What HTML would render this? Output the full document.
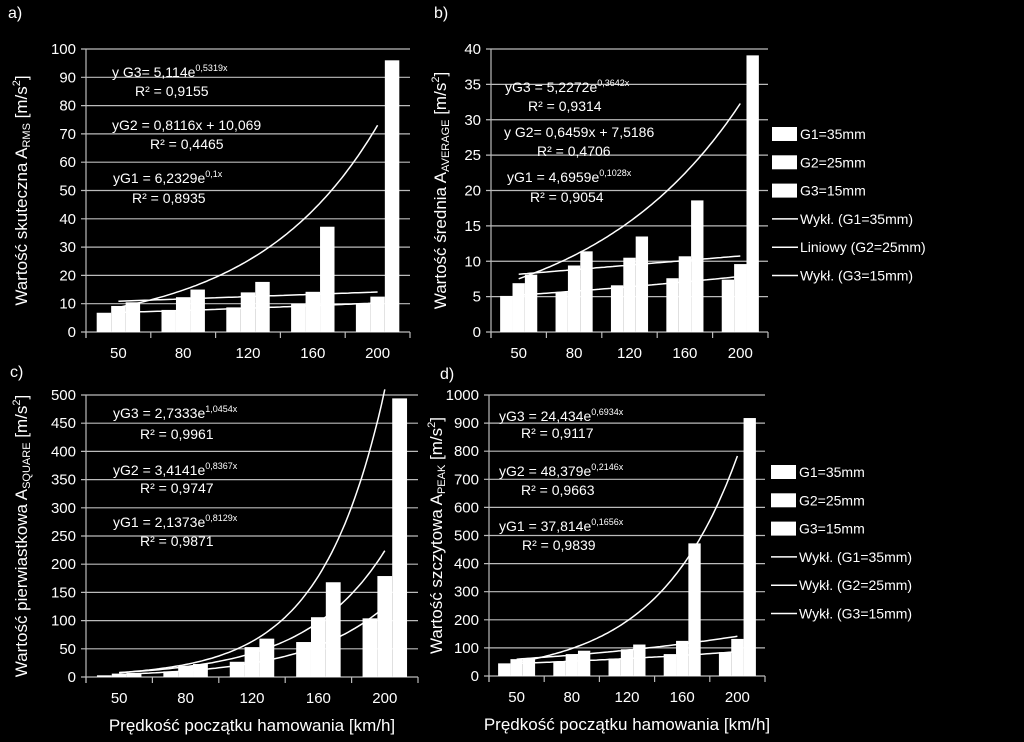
<!DOCTYPE html>
<html><head><meta charset="utf-8">
<style>
html,body{margin:0;padding:0;background:#000;}
svg{display:block;font-family:"Liberation Sans",sans-serif;}
text{fill:#fff;}
</style></head>
<body>
<svg id="chart" width="1024" height="742" viewBox="0 0 1024 742" xmlns="http://www.w3.org/2000/svg">
<rect width="1024" height="742" fill="#000"/>
</svg>
<script>
const categories = ["50","80","120","160","200"];
// panel a (RMS)
const aG1 = [6.8, 7.8, 8.7, 10.0, 10.2];
const aG2 = [9.2, 12.3, 14.0, 14.2, 12.5];
const aG3 = [10.5, 15.0, 17.7, 37.2, 96.0];
const aTicks = [0,10,20,30,40,50,60,70,80,90,100];
// panel b (average)
const bG1 = [5.1, 5.6, 6.6, 7.6, 7.4];
const bG2 = [6.9, 9.4, 10.5, 10.7, 9.6];
const bG3 = [8.1, 11.4, 13.5, 18.6, 39.1];
const bTicks = [0,5,10,15,20,25,30,35,40];
// panel c (square)
const cG1 = [3, 10, 27, 62, 104];
const cG2 = [6, 20, 53, 106, 179];
const cG3 = [7, 23, 68, 168, 494];
const cTicks = [0,50,100,150,200,250,300,350,400,450,500];
// panel d (peak)
const dG1 = [45, 50, 62, 78, 85];
const dG2 = [60, 78, 95, 125, 132];
const dG3 = [63, 90, 112, 472, 918];
const dTicks = [0,100,200,300,400,500,600,700,800,900,1000];

const NS="http://www.w3.org/2000/svg";
const svg=document.getElementById('chart');
function mk(tag,attrs,parent){const e=document.createElementNS(NS,tag);for(const k in attrs)e.setAttribute(k,attrs[k]);(parent||svg).appendChild(e);return e;}
function txt(str,x,y,size,anchor,parent){const t=mk('text',{x:x,y:y,'font-size':size,'text-anchor':anchor||'start'},parent);t.textContent=str;return t;}

function panel(p){
  const g=mk('g',{});
  
  
  const max=p.ticks[p.ticks.length-1];
  const ys=v=>p.y0-(v/max)*(p.y0-p.y1);
  const cw=(p.x1-p.x0)/categories.length;
  const xc=i=>p.x0+cw*(i+0.5);
  // gridlines & tick labels
  p.ticks.forEach(t=>{
    const l=mk('line',{x1:p.x0-5,x2:p.x1,y1:ys(t),y2:ys(t),stroke:'#bbb','stroke-width':1.2},g);
    
    
    const tl=txt(String(t),p.x0-10,ys(t)+5,15,'end',g);
    
    
  });
  mk('line',{x1:p.x0,x2:p.x0,y1:p.y1,y2:p.y0+6,stroke:'#bbb','stroke-width':1.2},g);
  for(let i=0;i<=categories.length;i++){
    mk('line',{x1:p.x0+cw*i,x2:p.x0+cw*i,y1:p.y0,y2:p.y0+6,stroke:'#bbb','stroke-width':1.2},g);
  }
  categories.forEach((c,i)=>{
    const tl=txt(c,xc(i),p.y0+26,15,'middle',g);
    
    
  });
  // bars
  const bw=cw*0.67/3;
  [p.s1,p.s2,p.s3].forEach((arr,si)=>{
    arr.forEach((v,i)=>{
      const x=xc(i)-1.5*bw+si*bw;
      const r=mk('rect',{x:x,y:ys(v),width:bw,height:p.y0-ys(v),fill:'#fff'},g);
      
      
    });
  });
  // trendlines
  p.trends.forEach(f=>{
    let d='';
    for(let k=0;k<=80;k++){
      const xv=1+4*k/80;
      let v=f(xv); if(v>max) v=max*1.02;
      d+=(k?'L':'M')+(p.x0+cw*(xv-0.5)).toFixed(1)+','+ys(v).toFixed(1);
    }
    const pth=mk('path',{d:d,fill:'none',stroke:'#fff','stroke-width':1.5},g);
    
    
  });
  // equations
  p.eqs.forEach(e=>{
    const t=mk('text',{x:e[1],y:e[2],'font-size':14},g);
    
    
    t.appendChild(document.createTextNode(e[0]));
    if(e[3]){const s=mk('tspan',{'font-size':9,dy:-6},t);s.textContent=e[3];}
  });
  // labels
  const pl=txt(p.label,p.lx,p.ly,16,'start',g);
  
  
  const yt=mk('text',{transform:`translate(${p.tx},${(p.y0+p.y1)/2}) rotate(-90)`,'text-anchor':'middle','font-size':17},g);
  
  
  yt.appendChild(document.createTextNode(p.ytitle+' A'));
  const sub=mk('tspan',{'font-size':11,dy:3},yt);sub.textContent=p.sub;
  const rest=mk('tspan',{dy:-3},yt);rest.textContent=' [m/s';
  const sup=mk('tspan',{'font-size':11,dy:-7},yt);sup.textContent='2';
  const rest2=mk('tspan',{dy:7},yt);rest2.textContent=']';
  if(p.xtitle){
    const xt=txt('Prędkość początku hamowania [km/h]',(p.x0+p.x1)/2,p.y0+54,17,'middle',g);
    
    
  }
  if(p.legend){
    const names=['G1=35mm','G2=25mm','G3=15mm',p.legend[0],p.legend[1],p.legend[2]];
    names.forEach((n,i)=>{
      const y=p.legY+i*28.3;
      const lg=mk('g',{},g);
      
      
      if(i<3) mk('rect',{x:p.legX,y:y-7,width:25,height:14,fill:'#fff'},lg);
      else mk('line',{x1:p.legX,x2:p.legX+26,y1:y,y2:y,stroke:'#fff','stroke-width':1.5},lg);
      txt(n,p.legX+28,y+5,14,'start',lg);
    });
  }
}

panel({name:'panel-a-rms',label:'a)',lx:8,ly:18,x0:86,x1:410,y0:332,y1:49,ticks:aTicks,s1:aG1,s2:aG2,s3:aG3,
  trends:[x=>5.114*Math.exp(0.5319*x),x=>0.8116*x+10.069,x=>6.2329*Math.exp(0.1*x)],
  eqs:[['y G3= 5,114e',112,77,'0,5319x'],['R² = 0,9155',135,96],['yG2 = 0,8116x + 10,069',112,130],['R² = 0,4465',150,149],['yG1 = 6,2329e',113,183,'0,1x'],['R² = 0,8935',132,203]],
  tx:27,ytitle:'Wartość skuteczna',sub:'RMS'});
panel({name:'panel-b-average',label:'b)',lx:434,ly:18,x0:491,x1:768,y0:332,y1:49,ticks:bTicks,s1:bG1,s2:bG2,s3:bG3,
  trends:[x=>5.2272*Math.exp(0.3642*x),x=>0.6459*x+7.5186,x=>4.6959*Math.exp(0.1028*x)],
  eqs:[['yG3 = 5,2272e',505,92,'0,3642x'],['R² = 0,9314',528,111],['y G2= 0,6459x + 7,5186',504,137],['R² = 0,4706',537,156],['yG1 = 4,6959e',507,182,'0,1028x'],['R² = 0,9054',530,202]],
  tx:446,ytitle:'Wartość średnia',sub:'AVERAGE',legend:['Wykł. (G1=35mm)','Liniowy (G2=25mm)','Wykł. (G3=15mm)'],legX:772,legY:134});
panel({name:'panel-c-square',label:'c)',lx:10,ly:377,x0:86,x1:418,y0:677,y1:395,ticks:cTicks,s1:cG1,s2:cG2,s3:cG3,
  trends:[x=>2.7333*Math.exp(1.0454*x),x=>3.4141*Math.exp(0.8367*x),x=>2.1373*Math.exp(0.8129*x)],
  eqs:[['yG3 = 2,7333e',113,418,'1,0454x'],['R² = 0,9961',140,439],['yG2 = 3,4141e',113,475,'0,8367x'],['R² = 0,9747',140,493],['yG1 = 2,1373e',113,527,'0,8129x'],['R² = 0,9871',140,546]],
  tx:27,ytitle:'Wartość pierwiastkowa',sub:'SQUARE',xtitle:true});
panel({name:'panel-d-peak',label:'d)',lx:440,ly:379,x0:489,x1:765,y0:676,y1:395,ticks:dTicks,s1:dG1,s2:dG2,s3:dG3,
  trends:[x=>24.434*Math.exp(0.6934*x),x=>48.379*Math.exp(0.2146*x),x=>37.814*Math.exp(0.1656*x)],
  eqs:[['yG3 = 24,434e',499,421,'0,6934x'],['R² = 0,9117',521,438],['yG2 = 48,379e',499,476,'0,2146x'],['R² = 0,9663',521,495],['yG1 = 37,814e',499,531,'0,1656x'],['R² = 0,9839',522,550]],
  tx:442,ytitle:'Wartość szczytowa',sub:'PEAK',xtitle:true,legend:['Wykł. (G1=35mm)','Wykł. (G2=25mm)','Wykł. (G3=15mm)'],legX:771,legY:472});
</script>
</body></html>
